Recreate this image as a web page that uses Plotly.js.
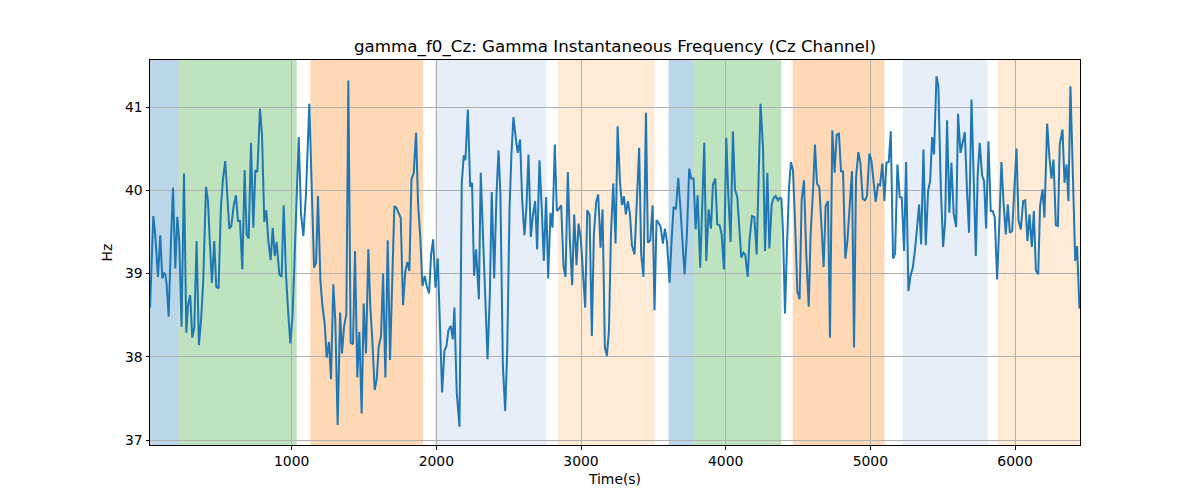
<!DOCTYPE html>
<html>
<head>
<meta charset="utf-8">
<script src="https://cdn.plot.ly/plotly-3.0.1.min.js"></script>
<style>
  html, body { margin: 0; padding: 0; background: #fff; }
  #chart { width: 1200px; height: 500px; }
</style>
</head>
<body>
<div id="chart"></div>
<script>
// sample times (s)
const times = [
  21, 44, 57, 76, 92, 106, 117, 127, 136, 150, 166, 180, 196, 210, 223, 239, 256, 272, 283, 299,
  313, 327, 343, 359, 375, 389, 408, 422, 433, 449, 465, 479, 495, 511, 525, 541, 555, 569, 583, 599,
  615, 629, 643, 659, 675, 689, 703, 719, 735, 749, 763, 781, 795, 811, 825, 839, 855, 869, 883, 896,
  915, 931, 945, 961, 977, 991, 1007, 1021, 1035, 1049,
  1065, 1081, 1099, 1122, 1139, 1155, 1169, 1182, 1199, 1212, 1229, 1242, 1258, 1272, 1288, 1302, 1318, 1335, 1348, 1362,
  1378, 1392, 1408, 1424, 1438, 1454, 1468, 1484, 1498, 1514, 1530, 1544, 1558, 1574, 1588, 1602, 1618, 1632, 1648, 1664,
  1680, 1694, 1710, 1724, 1740, 1754, 1770, 1786, 1800, 1814, 1828, 1844, 1860, 1874, 1890, 1904, 1920, 1934, 1950, 1964,
  1978, 1994, 2010, 2026, 2040, 2056, 2070, 2084, 2100, 2114, 2125,
  2141, 2160, 2176, 2190, 2201, 2218, 2234, 2247, 2261, 2275, 2294, 2307, 2324, 2340, 2354, 2370, 2383, 2400, 2416, 2430,
  2443, 2460, 2476, 2490, 2506, 2519, 2533, 2549, 2563, 2579, 2593, 2609, 2623, 2637, 2653, 2667, 2683, 2697, 2713, 2729,
  2743, 2759, 2773, 2789, 2803, 2819, 2833, 2849, 2863, 2879, 2893, 2909, 2923, 2939, 2953, 2969, 2983, 2999, 3013, 3029,
  3043, 3059, 3075, 3089, 3105, 3119, 3135, 3149, 3165, 3179,
  3193, 3207, 3223, 3239, 3253, 3269, 3283, 3296, 3310, 3324, 3338, 3352, 3370, 3386, 3402, 3416, 3432, 3449, 3462, 3479,
  3495, 3508, 3522, 3536, 3550, 3566, 3580, 3594, 3612, 3626, 3640, 3656, 3672, 3688, 3702, 3716, 3732, 3748, 3762, 3778,
  3792, 3806, 3824, 3838, 3852, 3866, 3882, 3898, 3912, 3928, 3942, 3958, 3972, 3988, 4004, 4018, 4034, 4050, 4064, 4080,
  4094, 4108, 4122, 4135, 4152, 4165, 4182, 4198, 4214, 4228, 4241,
  4258, 4272, 4288, 4302, 4318, 4332, 4345, 4362, 4373, 4385, 4396, 4410, 4424, 4438, 4451, 4465, 4481, 4495, 4511, 4525,
  4541, 4557, 4574, 4587, 4604, 4617, 4631, 4647, 4663, 4677, 4691, 4707, 4721, 4737, 4753, 4767, 4783, 4797, 4811, 4827,
  4841, 4857, 4873, 4887, 4901, 4917, 4931, 4947, 4963, 4977, 4993, 5007, 5023, 5037, 5053, 5067, 5083, 5097, 5111, 5127,
  5141, 5157, 5171, 5187, 5203, 5217, 5233, 5247, 5263, 5277, 5293, 5307, 5323,
  5337, 5351, 5367, 5383, 5399, 5413, 5427, 5440, 5457, 5470, 5487, 5503, 5517, 5530, 5546, 5560, 5576, 5593, 5606, 5623,
  5639, 5653, 5669, 5682, 5699, 5712, 5729, 5742, 5756, 5772, 5786, 5800, 5816, 5832, 5846, 5860, 5876, 5892, 5906, 5920,
  5936, 5950, 5964, 5980, 5994, 6010, 6024, 6040, 6056, 6070, 6086, 6100, 6116, 6130, 6144, 6160, 6173, 6190, 6203, 6222,
  6238, 6252, 6266, 6282, 6296, 6309, 6328, 6342, 6356, 6369, 6383, 6399, 6416, 6429, 6445,
];

// gamma instantaneous frequency (Hz)
const freqHz = [
  38.59, 39.69, 39.47, 38.96, 39.46, 38.94, 39.01, 38.99, 38.87, 38.48, 39.39, 40.03, 39.06, 39.68, 39.39, 38.36, 40.20, 38.29, 38.61, 38.74,
  38.23, 38.35, 39.39, 38.14, 38.47, 38.91, 40.04, 39.87, 39.43, 38.89, 39.39, 38.84, 38.82, 39.79, 40.13, 40.35, 39.95, 39.54, 39.57, 39.81,
  39.94, 39.63, 39.63, 39.05, 40.24, 39.47, 39.42, 40.57, 39.55, 40.24, 40.22, 40.98, 40.67, 39.62, 39.76, 39.39, 39.16, 39.55, 39.21, 39.38,
  38.99, 38.96, 39.82, 38.99, 38.51, 38.16, 38.51, 39.31, 39.87, 40.64,
  39.71, 39.45, 39.95, 41.04, 40.03, 39.07, 39.13, 39.93, 38.91, 38.63, 38.39, 37.99, 38.18, 37.73, 38.87, 38.43, 37.18, 38.53, 38.04, 38.36,
  38.51, 41.32, 38.17, 38.15, 39.27, 37.75, 38.30, 37.32, 38.64, 38.04, 39.29, 38.59, 38.19, 37.60, 37.73, 38.12, 38.25, 39.00, 37.75, 39.40,
  37.96, 38.75, 39.81, 39.79, 39.72, 39.67, 38.62, 39.03, 39.14, 39.03, 40.13, 40.21, 40.69, 39.83, 39.41, 38.85, 38.97, 38.85, 38.76, 39.23,
  39.41, 38.83, 39.18, 38.23, 37.57, 38.07, 38.13, 38.32, 38.37, 38.21, 38.59,
  37.57, 37.16, 40.09, 40.42, 40.36, 40.97, 40.04, 40.09, 38.97, 39.29, 38.69, 40.21, 39.39, 38.57, 37.97, 38.75, 39.98, 38.94, 39.95, 40.48,
  39.95, 37.89, 37.35, 38.07, 39.77, 40.43, 40.88, 40.63, 40.45, 40.61, 39.89, 39.46, 39.80, 40.43, 39.44, 39.69, 39.87, 39.29, 40.36, 39.77,
  39.15, 39.92, 38.94, 39.73, 39.55, 40.55, 39.75, 39.78, 39.82, 39.09, 38.96, 40.22, 39.41, 38.86, 39.71, 39.10, 39.60, 39.41, 38.99, 38.59,
  39.76, 39.71, 38.25, 39.47, 39.86, 39.95, 39.31, 39.77, 38.11, 38.01,
  38.31, 39.47, 40.08, 39.36, 40.77, 40.11, 39.82, 39.93, 39.71, 39.87, 39.72, 39.34, 39.23, 39.83, 40.51, 39.23, 38.96, 40.93, 39.37, 39.40,
  39.82, 38.56, 39.64, 39.61, 39.56, 39.36, 39.54, 39.39, 38.89, 39.39, 39.80, 39.77, 40.15, 39.76, 39.37, 38.99, 39.47, 40.26, 40.14, 40.14,
  39.53, 39.94, 39.07, 39.95, 40.57, 39.15, 39.77, 39.54, 40.07, 40.14, 39.59, 39.58, 39.47, 39.05, 40.63, 39.95, 39.38, 40.71, 40.01, 39.92,
  39.55, 39.19, 39.25, 39.23, 38.96, 39.41, 39.69, 39.68, 39.23, 40.07, 41.04,
  40.51, 39.27, 40.21, 39.30, 39.83, 39.91, 39.93, 39.88, 39.91, 39.90, 39.51, 38.52, 39.35, 40.04, 40.34, 40.24, 39.55, 38.79, 38.69, 39.88,
  40.12, 39.23, 38.60, 39.47, 40.00, 40.55, 40.08, 40.04, 39.55, 39.08, 39.81, 39.87, 38.23, 40.72, 40.21, 40.67, 40.68, 40.23, 40.23, 39.18,
  39.39, 39.87, 40.23, 38.11, 40.15, 40.46, 40.33, 39.90, 39.88, 39.93, 40.44, 40.36, 40.13, 39.86, 40.07, 40.06, 40.32, 39.87, 40.33, 40.34,
  40.71, 39.18, 39.24, 40.31, 39.92, 39.91, 39.27, 40.34, 38.79, 38.97, 39.07, 39.26, 39.55,
  39.83, 39.35, 40.49, 39.34, 39.99, 40.11, 40.64, 40.43, 41.37, 41.25, 40.03, 39.32, 39.63, 40.84, 39.73, 40.33, 39.72, 39.56, 40.92, 40.45,
  40.61, 40.70, 39.95, 39.49, 41.09, 40.11, 39.21, 40.19, 40.57, 40.18, 40.11, 39.54, 40.59, 39.75, 39.75, 39.67, 38.93, 39.63, 40.34, 39.87,
  39.47, 39.83, 39.49, 39.51, 40.05, 40.50, 39.64, 39.53, 39.87, 39.88, 39.39, 39.71, 39.32, 39.75, 39.04, 38.99, 39.81, 40.01, 39.67, 40.80,
  40.39, 40.14, 40.37, 39.58, 39.57, 40.55, 40.73, 40.09, 40.31, 39.87, 41.25, 40.19, 39.15, 39.33, 38.58,
];

// shaded intervals (s) and which state each one is
const spanStart = [0, 219, 1129, 1990, 2840, 3605, 3778, 4463, 5224, 5880];
const spanEnd = [219, 1035, 1909, 2762, 3508, 3778, 4385, 5097, 5811, 6470];
const spanState = ['A', 'B', 'C', 'D', 'E', 'A', 'B', 'C', 'D', 'E'];

const xTicks = [1000, 2000, 3000, 4000, 5000, 6000];
const yTicks = [37, 38, 39, 40, 41];

const stateColors = {
  A: 'rgba(31,119,180,0.3)',
  B: 'rgba(44,160,44,0.3)',
  C: 'rgba(255,127,14,0.3)',
  D: 'rgba(174,199,232,0.3)',
  E: 'rgba(255,187,120,0.3)',
};

const FONT = 'DejaVu Sans, sans-serif';

const shapes = spanStart.map((start, i) => ({
  type: 'rect',
  xref: 'x',
  yref: 'paper',
  x0: start,
  x1: spanEnd[i],
  y0: 0,
  y1: 1,
  fillcolor: stateColors[spanState[i]],
  line: { width: 0 },
  layer: 'below',
}));

const trace = {
  type: 'scatter',
  mode: 'lines',
  x: times,
  y: freqHz,
  line: { color: '#1f77b4', width: 2 },
  hoverinfo: 'x+y',
};

const layout = {
  width: 1200,
  height: 500,
  paper_bgcolor: '#fff',
  plot_bgcolor: '#fff',
  showlegend: false,
  margin: { l: 150, r: 120, t: 60, b: 55 },
  font: { family: FONT, color: '#000', size: 13.9 },
  title: {
    text: 'gamma_f0_Cz: Gamma Instantaneous Frequency (Cz Channel)',
    font: { family: FONT, size: 16.7, color: '#000' },
    x: 0.5,
    xref: 'paper',
    xanchor: 'center',
    y: 0.908,
    yref: 'container',
    yanchor: 'middle',
  },
  xaxis: {
    range: [21, 6449],
    tickvals: xTicks,
    ticks: 'outside',
    ticklen: 3.5,
    tickwidth: 1,
    tickcolor: '#000',
    showline: true,
    mirror: true,
    linecolor: '#000',
    linewidth: 1,
    showgrid: true,
    gridcolor: '#b0b0b0',
    gridwidth: 1,
    zeroline: false,
    title: { text: 'Time(s)', standoff: 6, font: { family: FONT, size: 13.9 } },
  },
  yaxis: {
    range: [36.94, 41.565],
    tickvals: yTicks,
    ticks: 'outside',
    ticklen: 3.5,
    tickwidth: 1,
    tickcolor: '#000',
    showline: true,
    mirror: true,
    linecolor: '#000',
    linewidth: 1,
    showgrid: true,
    gridcolor: '#b0b0b0',
    gridwidth: 1,
    zeroline: false,
    title: { text: 'Hz', standoff: 9, font: { family: FONT, size: 13.9 } },
  },
  shapes,
};

Plotly.newPlot('chart', [trace], layout, { displayModeBar: false, staticPlot: true });
</script>
</body>
</html>
